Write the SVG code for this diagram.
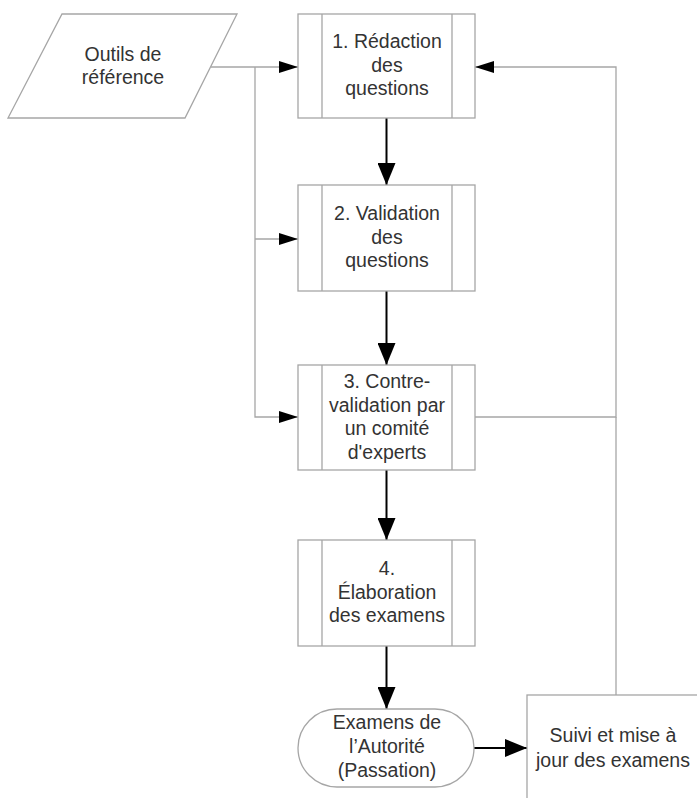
<svg xmlns="http://www.w3.org/2000/svg" width="697" height="798" viewBox="0 0 697 798">
<defs>
<style>
.shape{fill:#fff;stroke:#a6a6a6;stroke-width:1.3}
.thin{fill:none;stroke:#a6a6a6;stroke-width:1.3}
.thick{fill:none;stroke:#000;stroke-width:2}
text{font-family:"Liberation Sans",Arial,sans-serif;font-size:19.5px;fill:#333;text-anchor:middle}
</style>
<marker id="ah" markerUnits="userSpaceOnUse" markerWidth="19" markerHeight="12" refX="19" refY="6" orient="auto" viewBox="0 0 19 12">
<path d="M0,0 L19,6 L0,12 Z" fill="#000"/>
</marker>
<marker id="ahb" markerUnits="userSpaceOnUse" markerWidth="22" markerHeight="18" refX="22" refY="9" orient="auto" viewBox="0 0 22 18">
<path d="M0,0 L22,9 L0,18 Z" fill="#000"/>
</marker>
</defs>
<rect width="697" height="798" fill="#fff"/>
<g id="connectors">
<path class="thin" d="M211,67 H298" marker-end="url(#ah)"/>
<path class="thin" d="M255,67 V417 H298" marker-end="url(#ah)"/>
<path class="thin" d="M255,239 H298" marker-end="url(#ah)"/>
<path class="thin" d="M475,417 H616 V67 H475" marker-end="url(#ah)"/>
<path class="thin" d="M616,417 V695"/>
<path class="thick" d="M386.5,118 V185" marker-end="url(#ahb)"/>
<path class="thick" d="M386.5,291 V365" marker-end="url(#ahb)"/>
<path class="thick" d="M386.5,470 V540" marker-end="url(#ahb)"/>
<path class="thick" d="M386.5,646 V709" marker-end="url(#ahb)"/>
<path class="thick" d="M474,748 H527" marker-end="url(#ahb)"/>
</g>
<g id="outils">
<polygon class="shape" points="62,14 237,14 185,118 8,118"/>
<text x="123" y="61">Outils de</text>
<text x="123" y="84">référence</text>
</g>
<g id="step1">
<rect class="shape" x="298" y="14" width="177" height="104"/>
<path class="thin" d="M322,14 V118 M452,14 V118"/>
<text x="387" y="48">1. Rédaction</text>
<text x="387" y="72">des</text>
<text x="387" y="95">questions</text>
</g>
<g id="step2">
<rect class="shape" x="298" y="185" width="177" height="106"/>
<path class="thin" d="M322,185 V291 M452,185 V291"/>
<text x="387" y="220">2. Validation</text>
<text x="387" y="244">des</text>
<text x="387" y="267">questions</text>
</g>
<g id="step3">
<rect class="shape" x="298" y="365" width="177" height="105"/>
<path class="thin" d="M322,365 V470 M452,365 V470"/>
<text x="387" y="388">3. Contre-</text>
<text x="387" y="412">validation par</text>
<text x="387" y="435">un comité</text>
<text x="387" y="459">d'experts</text>
</g>
<g id="step4">
<rect class="shape" x="298" y="540" width="177" height="106"/>
<path class="thin" d="M322,540 V646 M452,540 V646"/>
<text x="387" y="575">4.</text>
<text x="387" y="599">Élaboration</text>
<text x="387" y="622">des examens</text>
</g>
<g id="examens">
<rect class="shape" x="298" y="709" width="176" height="78" rx="39" ry="39"/>
<text x="387" y="729">Examens de</text>
<text x="387" y="753">l’Autorité</text>
<text x="387" y="777">(Passation)</text>
</g>
<g id="suivi">
<rect class="shape" x="527" y="695" width="175" height="120"/>
<text x="613" y="742">Suivi et mise à</text>
<text x="613" y="767">jour des examens</text>
</g>
</svg>
